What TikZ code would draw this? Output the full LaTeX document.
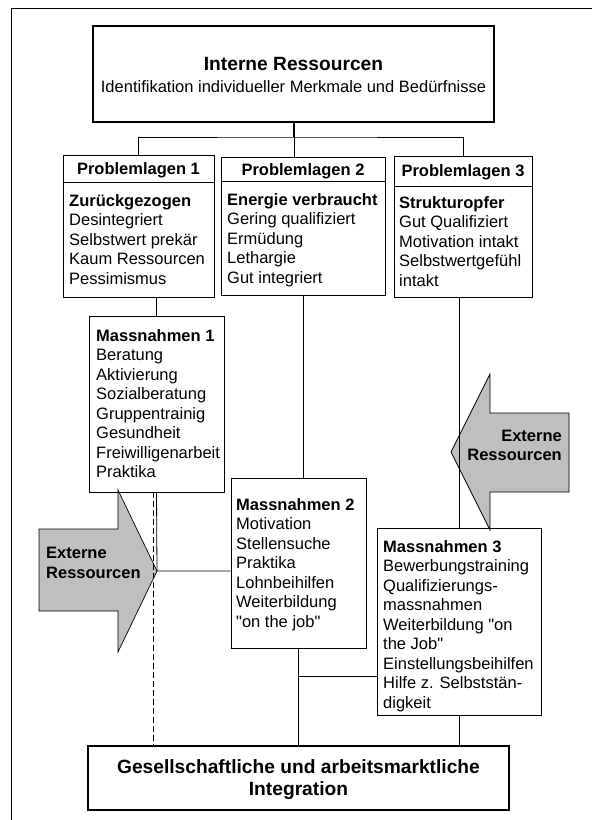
\documentclass[tikz,border=0pt]{standalone}
\usepackage{fontspec}
\setmainfont{Liberation Sans}[Ligatures=TeXOff]
\usetikzlibrary{calc}
\newcommand{\qd}{{\char34}}
\begin{document}
\begin{tikzpicture}[x=1pt,y=-1pt,
  box/.style={draw, line width=0.8pt, fill=white, rectangle, inner sep=0pt},
  thickbox/.style={draw, line width=2.6pt, fill=white, rectangle, inner sep=0pt},
  body/.style={anchor=north west, inner sep=0pt, align=left, font=\fontsize{16.5}{19.5}\selectfont},
  hdr/.style={anchor=base, inner sep=0pt, font=\fontsize{16.5}{19.5}\selectfont\bfseries},
  big/.style={anchor=base, inner sep=0pt, font=\fontsize{19.2}{22}\selectfont\bfseries},
  conn/.style={line width=0.8pt},
  extarrow/.style={draw, line width=0.7pt, fill=black!25, line join=miter}
]
\useasboundingbox (0,0) rectangle (592,820);
\fill[white] (0,0) rectangle (592,820);
\draw[line width=0.8pt] (11.5,820) -- (11.5,8) -- (592,8);

% boxes
\node[thickbox, minimum width=401pt, minimum height=96pt] (top) at (293.5,74) {};
\node[box, minimum width=151pt, minimum height=142pt] (p1) at (138.5,226) {};
\node[box, minimum width=164pt, minimum height=138pt] (p2) at (303,226) {};
\node[box, minimum width=138pt, minimum height=141pt] (p3) at (463,226.5) {};
\node[box, minimum width=135pt, minimum height=176pt] (m1) at (156.5,404) {};
\node[box, minimum width=135pt, minimum height=170pt] (m2) at (298.5,563) {};
\node[box, minimum width=164pt, minimum height=187pt] (m3) at (459,621.5) {};
\node[thickbox, minimum width=421pt, minimum height=64pt] (bot) at (298.5,778) {};

% header separators
\draw[conn] ([yshift=-28pt]p1.north west) -- ([yshift=-28pt]p1.north east);
\draw[conn] ([yshift=-25pt]p2.north west) -- ([yshift=-25pt]p2.north east);
\draw[conn] ([yshift=-31pt]p3.north west) -- ([yshift=-31pt]p3.north east);

% external resource arrows
\coordinate (ltip) at (157,571);
\coordinate (rtip) at (451,452);
\draw[extarrow] (39,529) -- (118,529) -- (118,490) -- (ltip) -- (118,652) -- (118,611) -- (39,611) -- cycle;
\draw[extarrow] (569,413) -- (490,413) -- (490,374) -- (rtip) -- (490,530) -- (490,492) -- (569,492) -- cycle;

% connectors
\coordinate (bus) at (294,137);
\draw[line width=1.6pt] (top.south -| bus) -- (bus);
\draw[conn] (bus) -- (bus |- p2.north);
\draw[conn] (p1.north) |- (bus) -| (p3.north);
\draw[conn] (m1.north) -- (m1.north |- p1.south);
\draw[conn] (p2.south) -- (p2.south |- m2.north);
\draw[conn] (p3.south -| m3.north) -- (m3.north);
\draw[conn] (m1.south) -- (ltip) -- (ltip -| m2.west);
\draw[conn, dashed, dash pattern=on 6pt off 3pt] ([xshift=-3pt]m1.south) -- ([xshift=-3pt]m1.south |- bot.north);
\coordinate (j2) at (m2.south |- 0,676);
\draw[line width=1.4pt] (m2.south) -- (j2);
\draw[conn] (j2) -- (j2 |- bot.north);
\draw[conn] (j2) -- (j2 -| m3.west);
\draw[conn] (m3.south) -- (m3.south |- bot.north);

% texts
\node[big] (tt) at (293.5,70) {Interne Ressourcen};
\node[anchor=base, inner sep=0pt, font=\fontsize{16.5}{19.5}\selectfont] (ts) at (293.5,92) {Identifikation individueller Merkmale und Bedürfnisse};

\node[hdr] (h1) at (138.5,174.5) {Problemlagen 1};
\node[hdr] (h2) at (303,175.5) {Problemlagen 2};
\node[hdr] (h3) at (463,176.5) {Problemlagen 3};

\node[body] (b1) at (69,192.35) {\strut\textbf{Zurückgezogen}\\Desintegriert\\Selbstwert prekär\\Kaum Ressourcen\\Pessimismus};
\node[body] (b2) at (227,191.35) {\strut\textbf{Energie verbraucht}\\Gering qualifiziert\\Ermüdung\\Lethargie\\Gut integriert};
\node[body] (b3) at (399,194.35) {\strut\textbf{Strukturopfer}\\Gut Qualifiziert\\Motivation intakt\\Selbstwertgefühl\\intakt};

\node[body] (bm1) at (96,327.35) {\strut\textbf{Massnahmen 1}\\Beratung\\Aktivierung\\Sozialberatung\\Gruppentrainig\\Gesundheit\\Freiwilligenarbeit\\Praktika};
\node[body] (bm2) at (236,496.35) {\strut\textbf{Massnahmen 2}\\Motivation\\Stellensuche\\Praktika\\Lohnbeihilfen\\Weiterbildung\\\qd on the job\qd};
\node[body] (bm3) at (383,538.35) {\strut\textbf{Massnahmen 3}\\Bewerbungstraining\\Qualifizierungs-\\massnahmen\\Weiterbildung \qd on\\the Job\qd\\Einstellungsbeihilfen\\Hilfe z. Selbststän-\\digkeit};

\node[body, font=\fontsize{16.5}{20}\selectfont\bfseries] (el) at (46,544.35) {\strut Externe\\Ressourcen};
\node[body, anchor=north east, align=right, font=\fontsize{16.5}{19.5}\selectfont\bfseries] (er) at (562,427.35) {\strut Externe\\Ressourcen};

\node[big] (g1) at (298.5,773) {Gesellschaftliche und arbeitsmarktliche};
\node[big] (g2) at (298.5,795) {Integration};
\end{tikzpicture}
\end{document}
